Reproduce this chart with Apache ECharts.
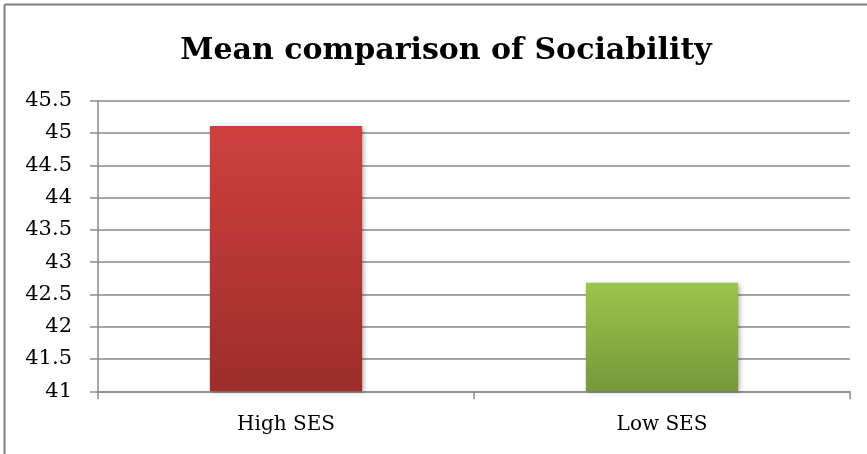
<!DOCTYPE html>
<html>
<head>
<meta charset="utf-8">
<script src="https://cdn.jsdelivr.net/npm/echarts@6/dist/echarts.min.js"></script>
<style>
  html, body { margin: 0; padding: 0; background: #fff; }
  #chart { width: 867px; height: 454px; }
</style>
</head>
<body>
<div id="chart"></div>
<script>
// Mean sociability scores by socio-economic status
const categories = ['High SES', 'Low SES'];
const meanValues = [45.11, 42.68];
const chartTitle = 'Mean comparison of Sociability';

const barColors = [
  ['#cf403d', '#9c2d2a'],
  ['#9cc54b', '#77973a']
];

const serif = '"DejaVu Serif", "Liberation Serif", serif';
const gridGray = '#8a8a8a';

const chart = echarts.init(document.getElementById('chart'), null, { renderer: 'canvas' });

chart.setOption({
  animation: false,
  backgroundColor: '#ffffff',
  title: {
    text: chartTitle,
    left: 441,
    textAlign: 'center',
    top: 31,
    textStyle: { fontFamily: serif, fontWeight: 'bold', fontSize: 30, color: '#000' }
  },
  graphic: [
    { type: 'line', shape: { x1: 4.5, y1: 4.5, x2: 867, y2: 4.5 }, style: { stroke: '#808080', lineWidth: 2 } },
    { type: 'line', shape: { x1: 4.5, y1: 4.5, x2: 4.5, y2: 454 }, style: { stroke: '#808080', lineWidth: 2 } }
  ],
  grid: { left: 98, right: 17, top: 100.7, bottom: 62.7 },
  xAxis: {
    type: 'category',
    data: categories,
    axisLine: { lineStyle: { color: gridGray, width: 1.5 } },
    axisTick: { show: true, length: 8, alignWithLabel: false, lineStyle: { color: gridGray, width: 1.5 } },
    axisLabel: { fontFamily: serif, fontSize: 20, color: '#000', margin: 23 }
  },
  yAxis: {
    type: 'value',
    min: 41,
    max: 45.5,
    interval: 0.5,
    axisLine: { show: true, lineStyle: { color: gridGray, width: 1.5 } },
    axisTick: { show: true, length: 8, lineStyle: { color: gridGray, width: 1.5 } },
    splitLine: { lineStyle: { color: gridGray, width: 1.5 } },
    axisLabel: { fontFamily: serif, fontSize: 21, color: '#000', margin: 26 }
  },
  series: [{
    type: 'bar',
    barWidth: '40.5%',
    data: meanValues.map((v, i) => ({
      value: v,
      itemStyle: {
        color: new echarts.graphic.LinearGradient(0, 0, 0, 1, [
          { offset: 0, color: barColors[i][0] },
          { offset: 1, color: barColors[i][1] }
        ]),
        shadowColor: 'rgba(0,0,0,0.35)',
        shadowBlur: 5,
        shadowOffsetX: 2,
        shadowOffsetY: 1
      }
    }))
  }]
});
</script>
</body>
</html>
